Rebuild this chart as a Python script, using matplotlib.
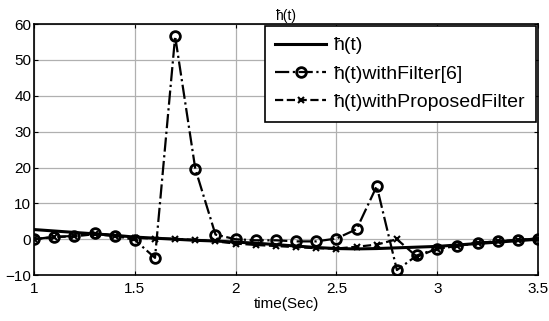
import matplotlib.pyplot as plt

plt.rcParams["font.family"] = ["Liberation Sans", "DejaVu Sans"]

# sample times (Sec)
t = [1.0, 1.1, 1.2, 1.3, 1.4, 1.5, 1.6, 1.7, 1.8, 1.9,
     2.0, 2.1, 2.2, 2.3, 2.4, 2.5, 2.6, 2.7, 2.8, 2.9,
     3.0, 3.1, 3.2, 3.3, 3.4, 3.5]

h_true = [2.7, 2.3, 1.9, 1.5, 1.1, 0.6, 0.3, 0.0, -0.3, -0.5,
          -0.8, -1.1, -1.5, -1.9, -2.3, -2.6, -2.7, -2.6, -2.4, -2.2,
          -2.0, -1.6, -1.2, -0.8, -0.4, 0.0]

h_filter6 = [0.0, 0.7, 0.9, 1.8, 1.0, -0.2, -5.2, 56.6, 19.6, 1.3,
             0.0, -0.3, -0.3, -0.6, -0.6, 0.2, 2.8, 14.8, -8.6, -4.5,
             -2.6, -1.9, -1.0, -0.6, -0.2, 0.2]

h_proposed = [0.0, 0.6, 0.8, 1.4, 0.9, 0.4, 0.2, 0.1, -0.2, -0.6,
              -1.2, -1.6, -1.9, -2.2, -2.5, -2.6, -2.1, -1.5, 0.0, -4.9,
              -2.6, -1.9, -1.0, -0.6, -0.2, 0.2]

fig = plt.figure(figsize=(5.49, 3.21), dpi=100)
ax = fig.add_axes([0.062, 0.143, 0.918, 0.782])

ax.plot(t, h_true, "-", color="black", linewidth=2.2, label="ħ(t)")
ax.plot(t, h_filter6, "-.", color="black", linewidth=1.6, marker="o",
        markersize=7, markerfacecolor="none", markeredgewidth=2,
        label="ħ(t)withFilter[6]")
ax.plot(t, h_proposed, "--", color="black", linewidth=1.6, marker="x",
        markersize=4, markeredgewidth=1.5, label="ħ(t)withProposedFilter")

ax.set_xlim(1, 3.5)
ax.set_ylim(-10, 60)
ax.set_xticks([1, 1.5, 2, 2.5, 3, 3.5])
ax.set_xticklabels(["1", "1.5", "2", "2.5", "3", "3.5"])
ax.set_yticks([-10, 0, 10, 20, 30, 40, 50, 60])
ax.tick_params(direction="in", labelsize=11, top=True, right=True, length=3)
ax.tick_params(axis="x", pad=5)
ax.tick_params(axis="y", pad=2)
ax.grid(True, color="#b0b0b0", linewidth=0.9)
for s in ax.spines.values():
    s.set_linewidth(1.2)

ax.set_title("ħ(t)", fontsize=10, pad=3)
ax.set_xlabel("time(Sec)", fontsize=11, labelpad=1)

leg = ax.legend(loc="upper right", fontsize=14, handlelength=2.6,
                frameon=True, fancybox=False, edgecolor="black",
                borderaxespad=0.1, labelspacing=0.55, handletextpad=0.4,
                borderpad=0.55)
leg.get_frame().set_linewidth(1.2)
leg.get_frame().set_alpha(1)

fig.savefig("out.png", dpi=100)
